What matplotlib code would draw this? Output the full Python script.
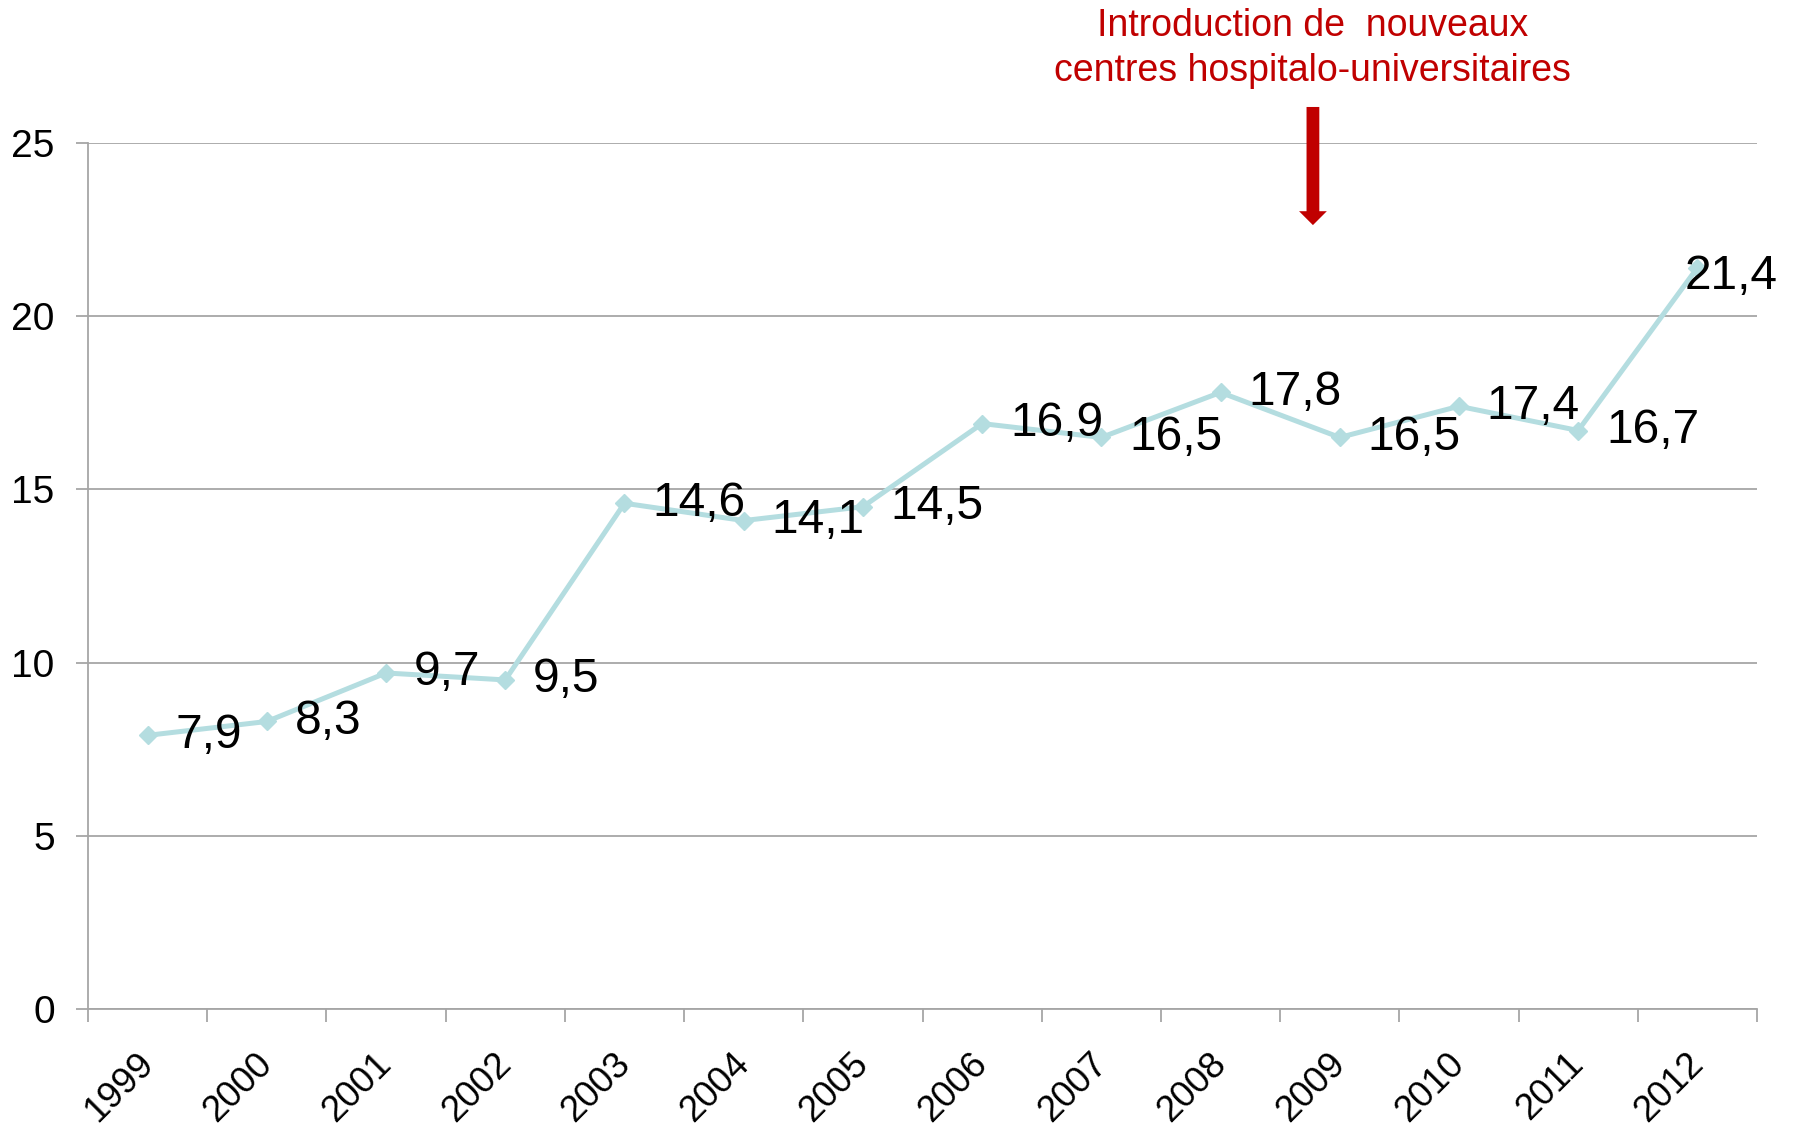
import matplotlib
matplotlib.use("Agg")
import matplotlib.pyplot as plt
import matplotlib.transforms as mtransforms
import numpy as np

plt.rcParams['font.family'] = ['Liberation Sans', 'DejaVu Sans']

years = ['1999', '2000', '2001', '2002', '2003', '2004', '2005', '2006',
         '2007', '2008', '2009', '2010', '2011', '2012']
values = [7.9, 8.3, 9.7, 9.5, 14.6, 14.1, 14.5, 16.9, 16.5, 17.8, 16.5, 17.4, 16.7, 21.4]
value_labels = ['7,9', '8,3', '9,7', '9,5', '14,6', '14,1', '14,5', '16,9',
                '16,5', '17,8', '16,5', '17,4', '16,7', '21,4']
yticks = [0, 5, 10, 15, 20, 25]
annotation_text = "Introduction de  nouveaux\ncentres hospitalo-universitaires"
annotation_x = 9.775  # position on the category axis (between 2008 and 2009)

line_color = '#B4DDE0'
grid_color = '#A6A6A6'
red = '#C00000'

fig = plt.figure(figsize=(17.95, 11.27), dpi=100)
ax = fig.add_axes([88/1795, 1-1009/1127, (1757-88)/1795, (1009-143)/1127])

x = np.arange(len(years))
ax.plot(x, values, color=line_color, lw=3.6, marker='D', markersize=9,
        markerfacecolor=line_color, markeredgecolor=line_color, zorder=3, clip_on=False)

for i, (xi, v, lab) in enumerate(zip(x, values, value_labels)):
    dx = 20 if i < len(values) - 1 else -9
    dy = 0 if i < len(values) - 1 else -6
    ax.annotate(lab, (xi, v), xytext=(dx, dy), textcoords='offset points',
                ha='left', va='center', fontsize=34.5, color='black', zorder=4,
                annotation_clip=False)

ax.set_xlim(-0.5, len(years) - 0.5)
ax.set_ylim(0, 25)
ax.set_yticks(yticks)
ax.set_yticklabels([str(t) for t in yticks], fontsize=28)
ax.yaxis.grid(True, color=grid_color, lw=1.3)
ax.set_axisbelow(True)

# category boundaries carry the tick marks; year labels sit rotated under each category
ax.set_xticks(np.arange(-0.5, len(years)))
ax.set_xticklabels([])
ax.tick_params(axis='x', length=9, width=1.3, color=grid_color, direction='out')
ax.tick_params(axis='y', length=9, width=1.3, color=grid_color, pad=15)
lbl_trans = ax.get_xaxis_transform() + mtransforms.ScaledTranslation(
    -12/100, -37.5/100, fig.dpi_scale_trans)
for xi, yr in zip(x, years):
    ax.text(xi, 0, yr, transform=lbl_trans, fontsize=26.5, rotation=45,
            ha='right', va='top', rotation_mode='anchor', clip_on=False)

for s in ['top', 'right']:
    ax.spines[s].set_visible(False)
for s in ['left', 'bottom']:
    ax.spines[s].set_color(grid_color)
    ax.spines[s].set_linewidth(1.3)

# arrow
ax.annotate('', xy=(annotation_x, 22.63), xytext=(annotation_x, 26.04),
            xycoords='data', textcoords='data', annotation_clip=False,
            arrowprops=dict(arrowstyle='simple,head_width=1.0,head_length=0.5,tail_width=0.46',
                            mutation_scale=20, fc=red, ec='none', shrinkA=0, shrinkB=0))
ax.text(annotation_x, 27.73, annotation_text, ha='center', va='center',
        fontsize=27, color=red, linespacing=1.33, clip_on=False)

fig.savefig('out.png', dpi=100)
